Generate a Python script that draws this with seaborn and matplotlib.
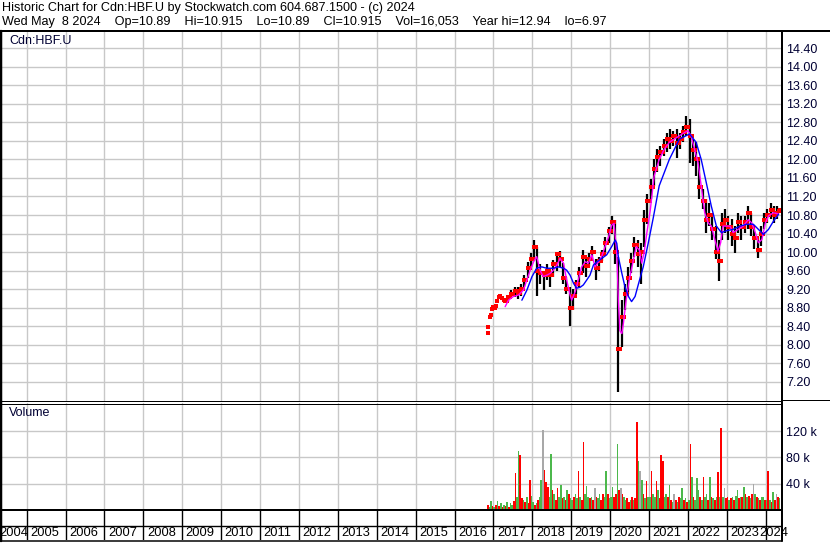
import numpy as np
import pandas as pd
import matplotlib
matplotlib.use("Agg")
import matplotlib.pyplot as plt
import seaborn as sns

sns.set_style("white")
plt.rcParams["font.family"] = ["Liberation Sans", "DejaVu Sans"]

# ---------------- data ----------------
title_line1 = "Historic Chart for Cdn:HBF.U by Stockwatch.com 604.687.1500 - (c) 2024"
title_fields = ["Wed May  8 2024", "Op=10.89", "Hi=10.915", "Lo=10.89", "Cl=10.915",
                "Vol=16,053", "Year hi=12.94", "lo=6.97"]
symbol = "Cdn:HBF.U"

# early close-only dots (decimal year, price)
early_year = [2016.85, 2016.87, 2016.90, 2016.93, 2016.96, 2017.00, 2017.04, 2017.07,
              2017.10, 2017.13, 2017.17, 2017.21, 2017.26, 2017.30]
early_close = [8.26, 8.39, 8.60, 8.64, 8.78, 8.82, 8.80, 8.83,
               8.95, 9.02, 9.04, 9.00, 8.96, 8.95]

# monthly bars, May 2017 .. May 2024
first_month = "2017-05"
close = [9.02, 9.10, 9.15, 9.12, 9.20, 9.40, 9.65, 9.85,
         10.10, 9.60, 9.55, 9.50, 9.60, 9.50, 9.75, 9.95, 9.85, 9.45, 9.20, 8.80,
         9.05, 9.30, 9.55, 9.90, 9.70, 9.85, 10.00, 9.65, 9.80, 9.95, 10.20, 10.45,
         10.65, 10.00, 7.90, 8.60, 9.10, 9.45, 9.80, 10.15, 9.95, 10.00, 10.70, 11.10,
         11.40, 11.80, 12.05, 12.15, 12.30, 12.45, 12.40, 12.50, 12.35, 12.45, 12.60, 12.70,
         12.50, 12.20, 12.00, 11.40, 11.10, 10.70, 10.80, 10.50, 10.00, 9.80, 10.60, 10.70,
         10.55, 10.40, 10.30, 10.65, 10.55, 10.65, 10.85, 10.55, 10.30, 10.05, 10.40, 10.70,
         10.80, 10.90, 10.80, 10.85, 10.915]
high = [9.08, 9.18, 9.25, 9.25, 9.30, 9.50, 9.78, 9.98,
        10.25, 10.10, 9.75, 9.60, 9.75, 9.55, 9.83, 10.00, 10.02, 9.76, 9.47, 9.25,
        9.20, 9.40, 9.68, 10.05, 9.90, 9.97, 10.12, 9.86, 9.90, 10.05, 10.33, 10.55,
        10.77, 10.70, 9.90, 8.96, 9.32, 9.68, 9.97, 10.33, 10.26, 10.20, 10.90, 11.25,
        11.57, 12.00, 12.22, 12.30, 12.44, 12.58, 12.65, 12.62, 12.65, 12.58, 12.73, 12.94,
        12.87, 12.44, 12.37, 12.00, 11.36, 11.14, 11.07, 10.85, 10.56, 10.27, 10.85, 10.92,
        10.78, 10.71, 10.56, 10.85, 10.78, 10.78, 10.99, 10.85, 10.56, 10.27, 10.56, 10.85,
        10.92, 11.07, 10.99, 10.99, 10.915]
low = [8.92, 9.00, 9.02, 8.98, 9.05, 9.25, 9.45, 9.68,
       9.80, 9.05, 9.30, 9.18, 9.40, 9.25, 9.47, 9.60, 9.68, 9.32, 9.10, 8.40,
       8.75, 9.10, 9.25, 9.55, 9.47, 9.68, 9.80, 9.40, 9.60, 9.80, 9.97, 10.19,
       10.40, 9.75, 6.97, 7.95, 8.75, 9.10, 9.54, 9.90, 9.68, 9.32, 10.10, 10.60,
       11.14, 11.43, 11.72, 11.86, 12.08, 12.15, 12.22, 12.30, 12.04, 12.22, 12.37, 12.51,
       11.93, 11.86, 11.65, 11.14, 10.92, 10.42, 10.56, 10.27, 9.84, 9.37, 10.27, 10.42,
       10.27, 10.13, 9.98, 10.42, 10.27, 10.42, 10.49, 10.35, 10.06, 9.88, 10.13, 10.49,
       10.63, 10.71, 10.63, 10.71, 10.89]
open_ = [8.95, 9.02, 9.10, 9.15, 9.12, 9.20, 9.40, 9.65,
         9.85, 10.10, 9.60, 9.55, 9.50, 9.60, 9.50, 9.75, 9.95, 9.85, 9.45, 9.20,
         8.80, 9.05, 9.30, 9.55, 9.90, 9.70, 9.85, 10.00, 9.65, 9.80, 9.95, 10.20,
         10.45, 10.65, 10.00, 7.90, 8.60, 9.10, 9.45, 9.80, 10.15, 9.95, 10.00, 10.70,
         11.10, 11.40, 11.80, 12.05, 12.15, 12.30, 12.45, 12.40, 12.50, 12.35, 12.45, 12.60,
         12.70, 12.50, 12.20, 12.00, 11.40, 11.10, 10.70, 10.80, 10.50, 10.00, 9.80, 10.60,
         10.70, 10.55, 10.40, 10.30, 10.65, 10.55, 10.65, 10.85, 10.55, 10.30, 10.05, 10.40,
         10.70, 10.80, 10.90, 10.80, 10.89]

# short moving average (magenta), read as (decimal year, price)
ma_fast_year = [2017.30, 2017.385, 2017.51, 2017.64, 2017.77, 2017.86, 2017.94, 2018.03,
                2018.11, 2018.20, 2018.28, 2018.37, 2018.46, 2018.54, 2018.63, 2018.71,
                2018.80, 2018.88, 2018.97, 2019.01, 2019.10, 2019.18, 2019.27, 2019.36,
                2019.44, 2019.53, 2019.61, 2019.70, 2019.78, 2019.87, 2019.96, 2020.04,
                2020.10, 2020.17, 2020.21, 2020.25, 2020.30, 2020.34, 2020.41, 2020.49,
                2020.58, 2020.67, 2020.75, 2020.81, 2020.87, 2020.94, 2021.03, 2021.13,
                2021.26, 2021.39, 2021.52, 2021.65, 2021.78, 2021.91, 2022.00, 2022.08,
                2022.17, 2022.26, 2022.34, 2022.43, 2022.52, 2022.60, 2022.69, 2022.77,
                2022.84, 2022.90, 2022.99, 2023.08, 2023.16, 2023.29, 2023.42, 2023.55,
                2023.64, 2023.73, 2023.81, 2023.90, 2023.99, 2024.07, 2024.20, 2024.33]
ma_fast_val = [8.82, 8.96, 9.04, 9.07, 9.18, 9.40, 9.60, 9.79,
               9.90, 9.60, 9.47, 9.50, 9.54, 9.61, 9.72, 9.86,
               9.76, 9.40, 9.07, 8.96, 9.14, 9.40, 9.68, 9.79,
               9.76, 9.94, 9.68, 9.79, 9.90, 10.12, 10.33, 10.58,
               10.62, 9.97, 8.96, 8.30, 8.24, 8.46, 8.96, 9.40,
               9.76, 10.12, 10.04, 9.76, 9.97, 10.40, 10.90, 11.64,
               12.00, 12.22, 12.37, 12.44, 12.51, 12.58, 12.62, 12.51,
               12.22, 11.93, 11.43, 10.85, 10.63, 10.56, 10.27, 10.02,
               10.20, 10.56, 10.56, 10.56, 10.42, 10.49, 10.56, 10.70,
               10.63, 10.42, 10.20, 10.27, 10.63, 10.78, 10.85, 10.82]

# long moving average (blue)
ma_slow_year = [2017.73, 2017.86, 2017.99, 2018.11, 2018.24, 2018.37, 2018.54, 2018.67,
                2018.80, 2018.88, 2018.97, 2019.06, 2019.14, 2019.23, 2019.31, 2019.40,
                2019.48, 2019.57, 2019.66, 2019.78, 2019.91, 2020.04, 2020.13, 2020.17,
                2020.21, 2020.30, 2020.38, 2020.47, 2020.55, 2020.64, 2020.73, 2020.85,
                2020.98, 2021.11, 2021.26, 2021.52, 2021.78, 2022.04, 2022.21, 2022.34,
                2022.47, 2022.60, 2022.73, 2022.86, 2022.99, 2023.16, 2023.34, 2023.51,
                2023.68, 2023.81, 2023.94, 2024.07, 2024.20, 2024.33]
ma_slow_val = [8.96, 9.18, 9.47, 9.65, 9.68, 9.65, 9.65, 9.68,
               9.65, 9.61, 9.50, 9.32, 9.22, 9.24, 9.29, 9.40,
               9.50, 9.72, 9.79, 9.86, 9.94, 10.12, 10.26, 10.19,
               9.90, 9.54, 9.25, 9.04, 8.93, 9.04, 9.32, 9.68,
               10.20, 10.75, 11.43, 12.00, 12.44, 12.55, 12.37, 12.00,
               11.50, 10.99, 10.56, 10.42, 10.46, 10.49, 10.56, 10.60,
               10.60, 10.49, 10.38, 10.49, 10.67, 10.82]

# half-monthly volume (thousands), from Nov 2016; colour codes g=up r=down k=unchanged
vol_2016 = [8, 4, 14, 6]
vol_2017 = [5, 8, 14, 6, 10, 4, 8, 6, 12, 5, 10, 8, 14, 56, 20, 90, 83, 18, 15, 12, 20, 10, 46, 22]
vol_2018 = [12, 8, 10, 15, 20, 45, 121, 61, 42, 35, 20, 85, 30, 25, 15, 33, 20, 38, 18, 20, 15, 30, 25, 18]
vol_2019 = [15, 20, 25, 18, 60, 20, 15, 104, 25, 36, 20, 18, 20, 15, 33, 20, 18, 25, 15, 25, 20, 59, 25, 18]
vol_2020 = [20, 35, 20, 25, 101, 30, 33, 25, 20, 15, 18, 12, 15, 20, 15, 18, 134, 74, 59, 45, 25, 18, 44, 20]
vol_2021 = [20, 60, 25, 20, 44, 30, 18, 83, 74, 20, 25, 20, 38, 15, 12, 25, 15, 12, 20, 18, 33, 15, 18, 12]
vol_2022 = [15, 100, 50, 20, 15, 48, 30, 20, 15, 50, 20, 25, 15, 50, 20, 18, 15, 20, 58, 20, 124, 20, 33, 18]
vol_2023 = [20, 15, 18, 20, 15, 22, 30, 18, 20, 20, 35, 25, 20, 22, 18, 25, 40, 25, 20, 18, 15, 20, 20, 15]
vol_2024 = [15, 59, 15, 12, 28, 15, 25, 20, 18]
vol_dir = ("rggr"
           "grgrgrgrgrggrrggrrgrgrrg"
           "grgrggkrrrggrgrrggrgrgrg"
           "grggrgrrgggrgrkrggrrggrg"
           "ggrrgrkrggrrgrgrrgkgrgrg"
           "grggrgrrrggrgrgkrgrggrgr"
           "grgrgggrgrggrgrgrgrgrgkr"
           "rgrgrggrgrgrgrgrkgrgrggr"
           "grgrgrkrg")

price_ticks = ["7.20", "7.60", "8.00", "8.40", "8.80", "9.20", "9.60", "10.00", "10.40",
               "10.80", "11.20", "11.60", "12.00", "12.40", "12.80", "13.20", "13.60",
               "14.00", "14.40"]
volume_ticks = ["40 k", "80 k", "120 k"]
years = list(range(2004, 2025))

# ---------------- layout helpers ----------------
W, H = 830, 543
fig = plt.figure(figsize=(W / 100, H / 100), dpi=100)
fig.patch.set_facecolor("white")


def box(x0, y0, x1, y1):
    return [x0 / W, 1 - y1 / H, (x1 - x0) / W, (y1 - y0) / H]


XMIN, XMAX = 2004.314, 2024.417
GRID = "#c8c8c8"
TXT = "#000033"
FS = 9.0

ax = fig.add_axes(box(0, 31, 782, 401))
axv = fig.add_axes(box(0, 403, 782, 510))
axy = fig.add_axes(box(0, 510, 782, 540))

# ---------------- price panel ----------------
start = pd.Period(first_month, freq="M")
mx = np.array([start.year + (start.month - 1 + i + 0.5) / 12 for i in range(len(close))])
df = pd.DataFrame({"x": mx, "open": open_, "close": close, "high": high, "low": low})
ax.vlines(df["x"], df["low"], df["high"], color="black", lw=1.6, zorder=3)
sns.scatterplot(x=early_year, y=early_close, ax=ax, color="red", marker="s", s=6,
                linewidth=0, zorder=4, legend=False)
sns.scatterplot(data=df, x="x", y="close", ax=ax, color="red", marker="s", s=7,
                linewidth=0, zorder=4, legend=False)
sns.scatterplot(data=df, x=df["x"] - 0.03, y="open", ax=ax, color="red", marker="s", s=5,
                linewidth=0, zorder=4, legend=False)
sns.lineplot(x=ma_fast_year, y=ma_fast_val, ax=ax, color="#ff00ff", lw=1.0,
             zorder=5, sort=False, estimator=None)
sns.lineplot(x=ma_slow_year, y=ma_slow_val, ax=ax, color="#0000ff", lw=1.0,
             zorder=5, sort=False, estimator=None)

ax.set_xlim(XMIN, XMAX)
ax.set_ylim(6.783, 14.774)
ax.set_xticks(years[1:])
ax.set_xticklabels([])
ax.set_yticks([float(t) for t in price_ticks])
ax.set_yticklabels(price_ticks)
ax.yaxis.tick_right()
ax.tick_params(axis="y", length=0, pad=3, labelsize=FS, labelcolor=TXT)
ax.tick_params(axis="x", length=0)
ax.grid(True, color=GRID, lw=1)
ax.set_xlabel("")
ax.set_ylabel("")
for s in ax.spines.values():
    s.set_visible(False)
ax.text(9 / 782, 1 - 10 / 370, symbol, transform=ax.transAxes, fontsize=FS,
        color=TXT, va="center", ha="left")

# ---------------- volume panel ----------------
vol = np.array(vol_2016 + vol_2017 + vol_2018 + vol_2019 + vol_2020 + vol_2021
               + vol_2022 + vol_2023 + vol_2024) * 1000
vx = 2016 + 10 / 12 + (np.arange(len(vol)) + 0.5) / 24
cmap = {"g": "#4cb84c", "r": "#ff0000", "k": "#a8a8a8"}
vcols = [cmap[c] for c in vol_dir]
axv.bar(vx, vol, width=1.0 / 24, color=vcols, linewidth=0, zorder=3, antialiased=False)
axv.set_xlim(XMIN, XMAX)
axv.set_ylim(0, 162600)
axv.set_xticks(years[1:])
axv.set_xticklabels([])
axv.set_yticks([40000, 80000, 120000])
axv.set_yticklabels(volume_ticks)
axv.yaxis.tick_right()
axv.tick_params(axis="y", length=0, pad=3, labelsize=FS, labelcolor=TXT)
axv.tick_params(axis="x", length=0)
axv.grid(True, color=GRID, lw=1)
for s in axv.spines.values():
    s.set_visible(False)
axv.text(9 / 782, 1 - 10 / 107, "Volume", transform=axv.transAxes, fontsize=FS,
         color=TXT, va="center", ha="left")

# ---------------- year strip ----------------
axy.set_xlim(XMIN, XMAX)
axy.set_ylim(0, 1)
axy.axis("off")
for yv in years[1:]:
    axy.axvline(yv, color="black", lw=1.0)
axy.axhline(1 - 16 / 30, color="black", lw=1.0)
px_per_year = 782 / (XMAX - XMIN)
for yv in years:
    xpos = yv + 3.5 / px_per_year
    if yv == years[0]:
        xpos = XMIN - 1 / px_per_year
    if yv == years[-1]:
        xpos = yv - 6 / px_per_year
    axy.text(xpos, 1 - 23 / 30, str(yv), fontsize=9.3, color="black",
             ha="left", va="center", clip_on=False)

# ---------------- frame & header ----------------
ov = fig.add_axes([0, 0, 1, 1], facecolor="none")
ov.set_xlim(0, W)
ov.set_ylim(H, 0)
ov.axis("off")
k = 0.72  # points per pixel
ov.plot([0, W], [31, 31], color="black", lw=2 * k)
ov.plot([1, 1], [31, 541], color="black", lw=2.5 * k)
ov.plot([0, 782], [401, 401], color="black", lw=1 * k)
ov.plot([0, 782], [403.5, 403.5], color="black", lw=1 * k)
ov.plot([782, W], [400, 400], color="black", lw=1 * k)
ov.plot([781.5, 781.5], [31, 541], color="black", lw=2 * k)
ov.plot([0, 782], [510, 510], color="black", lw=2 * k)
ov.plot([0, 782], [540.5, 540.5], color="black", lw=1.5 * k)
ov.text(2, 8, title_line1, fontsize=9.1, color="black", va="center", ha="left")
ov.text(2, 22, "    ".join(title_fields), fontsize=9.1, color="black",
        va="center", ha="left")

fig.savefig("out.png", dpi=100, facecolor="white")
